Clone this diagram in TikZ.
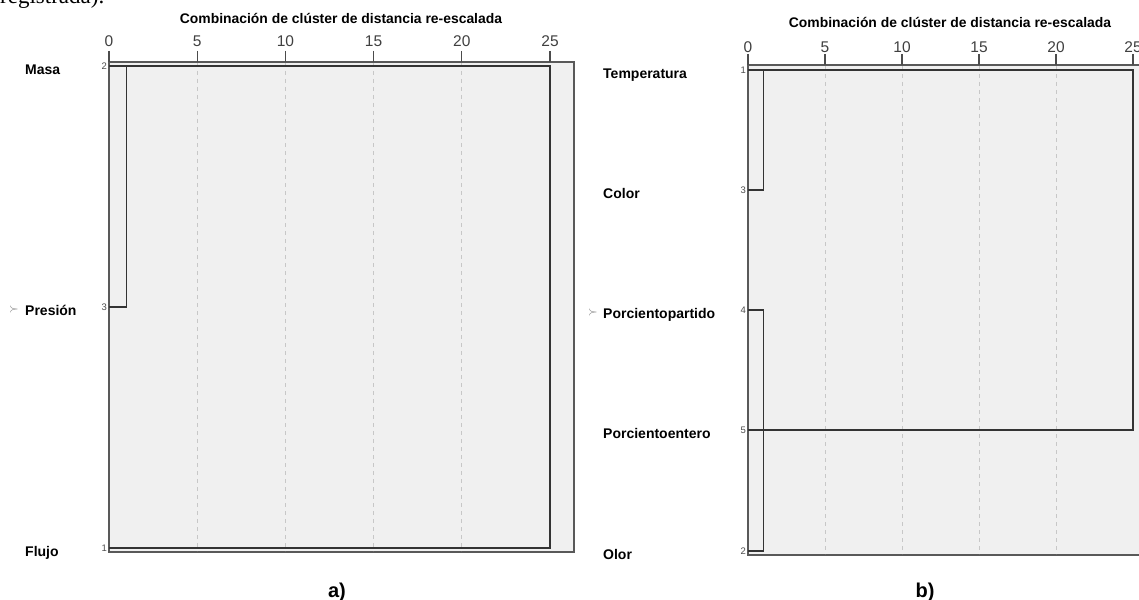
\documentclass[tikz,border=0pt]{standalone}
\usepackage{fontspec}
\setmainfont{Liberation Sans}
\newfontfamily\serifrm{Liberation Serif}
\begin{document}
\begin{tikzpicture}[x=1pt,y=-1pt,
  lbl/.style={anchor=base west, font=\fontsize{14}{16}\selectfont\bfseries, inner sep=0},
  ticklbl/.style={anchor=base, font=\fontsize{15.5}{17}\selectfont, text=black!75, inner sep=0},
  ttl/.style={anchor=base, font=\fontsize{13.9}{16}\selectfont\bfseries, inner sep=0},
  idx/.style={anchor=base east, font=\fontsize{9.5}{10}\selectfont, text=black!70, inner sep=0},
  chev/.style={font=\fontsize{13}{14}\selectfont, text=black!55, inner sep=0},
  panelcap/.style={anchor=base, font=\fontsize{20}{22}\selectfont\bfseries, inner sep=0},
  frame/.style={draw=black!65, fill=black!6, line width=1.1pt},
  gridline/.style={draw=black!22, line width=0.8pt, dash pattern=on 4pt off 4pt},
  dend/.style={draw=black!80, line width=1.4pt},
  tk/.style={draw=black!70, line width=1.1pt},
  ]
\useasboundingbox (0,0) rectangle (1139,599);

% cut-off text at top
\node[anchor=base west, inner sep=0, font=\serifrm\fontsize{23}{25}\selectfont] (cut) at (0,3.5) {registrada).};

% ================= Panel a =================
\node[ttl] (ta) at (341,24) {Combinación de clúster de distancia re-escalada};
\path[frame] (109,62) rectangle (574,552);
\foreach \v in {5,10,15,20} {
  \draw[gridline] ({109+17.64*\v},63) -- ({109+17.64*\v},551);
}
\foreach \v in {0,5,10,15,20,25} {
  \draw[tk] ({109+17.64*\v},51) -- ({109+17.64*\v},62);
  \node[ticklbl] at ({109+17.64*\v},47) {\v};
}
\coordinate (am0) at (109,66);
\coordinate (am1) at (126.6,66);
\coordinate (am25) at (550,66);
\coordinate (ap0) at (109,307);
\coordinate (ap1) at (126.6,307);
\coordinate (af0) at (109,548);
\coordinate (af25) at (550,548);
\draw[dend] (am0) -- (am25) -- (af25) -- (af0);
\draw[dend] (am1) -- (ap1) -- (ap0);

\node[lbl] (lmasa) at (25,75) {Masa};
\node[lbl] (lpres) at (25,315) {Presión};
\node[lbl] (lflujo) at (25,556) {Flujo};
\node[chev] (mka) at (14,309) {$\succ$};
\node[idx] (ia2) at (107,69.5) {2};
\node[idx] (ia3) at (107,310.5) {3};
\node[idx] (ia1) at (107,551.5) {1};
\node[panelcap] (capa) at (337,597) {a)};

% ================= Panel b =================
\node[ttl] (tb) at (950,28) {Combinación de clúster de distancia re-escalada};
\path[frame] (748,65) rectangle (1150,555);
\foreach \v in {5,10,15,20} {
  \draw[gridline] ({748+15.4*\v},66) -- ({748+15.4*\v},554);
}
\foreach \v in {0,5,10,15,20,25} {
  \draw[tk] ({748+15.4*\v},54) -- ({748+15.4*\v},65);
  \node[ticklbl] at ({748+15.4*\v},53) {\v};
}
\coordinate (bt0) at (748,70);
\coordinate (bt1) at (763.4,70);
\coordinate (bt25) at (1133,70);
\coordinate (bc0) at (748,190);
\coordinate (bc1) at (763.4,190);
\coordinate (bpp0) at (748,310);
\coordinate (bpp1) at (763.4,310);
\coordinate (bpe0) at (748,430);
\coordinate (bpe25) at (1133,430);
\coordinate (bo0) at (748,551);
\coordinate (bo1) at (763.4,551);
\draw[dend] (bt0) -- (bt25) -- (bpe25) -- (bpe0);
\draw[dend] (bt1) -- (bc1) -- (bc0);
\draw[dend] (bpp0) -- (bpp1) -- (bo1) -- (bo0);

\node[lbl] (ltemp) at (603,78.5) {Temperatura};
\node[lbl] (lcolor) at (603,198.5) {Color};
\node[lbl] (lpp) at (603,318.5) {Porcientopartido};
\node[lbl] (lpe) at (603,438.5) {Porcientoentero};
\node[lbl] (lolor) at (603,559) {Olor};
\node[chev] (mkb) at (593,312) {$\succ$};
\node[idx] (ib1) at (746,73.5) {1};
\node[idx] (ib3) at (746,193.5) {3};
\node[idx] (ib4) at (746,313.5) {4};
\node[idx] (ib5) at (746,433.5) {5};
\node[idx] (ib2) at (746,554.5) {2};
\node[panelcap] (capb) at (925,597) {b)};
\end{tikzpicture}
\end{document}
